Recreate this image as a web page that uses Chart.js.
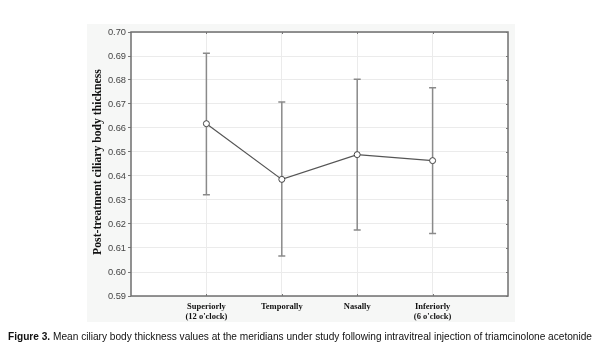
<!DOCTYPE html>
<html>
<head>
<meta charset="utf-8">
<script src="https://cdn.jsdelivr.net/npm/chart.js@4.4.1/dist/chart.umd.min.js"></script>
<style>
  html, body { margin: 0; padding: 0; background: #fff; }
  #wrap { position: relative; width: 600px; height: 358px; overflow: hidden; }
  #c { position: absolute; left: 0; top: 0; }
  #cap { position: absolute; left: 8px; top: 330px; white-space: nowrap;
         font-family: "Liberation Sans", Arial, sans-serif; font-size: 10.5px; color: #111;
         transform-origin: 0 0; }
  #cap b { font-weight: bold; }
</style>
</head>
<body>
<div id="wrap">
  <canvas id="c" width="600" height="358"></canvas>
  <div id="cap"><b>Figure 3.</b> Mean ciliary body thickness values at the meridians under study following intravitreal injection of triamcinolone acetonide</div>
</div>
<script>
// ---- data ----
const categories = [["Superiorly", "(12 o'clock)"], ["Temporally"], ["Nasally"], ["Inferiorly", "(6 o'clock)"]];
const means = [0.6618, 0.6386, 0.6489, 0.6464];
const upper = [0.6911, 0.6708, 0.6803, 0.6768];
const lower = [0.6322, 0.6067, 0.6175, 0.6160];
const yTicks = [0.59, 0.60, 0.61, 0.62, 0.63, 0.64, 0.65, 0.66, 0.67, 0.68, 0.69, 0.70];
const yTitle = "Post-treatment ciliary body thickness";

const points = means.map((m, i) => ({ x: i + 1, y: m }));

const bgPlugin = {
  id: 'bg',
  beforeDraw(chart) {
    const ctx = chart.ctx, a = chart.chartArea;
    ctx.save();
    ctx.fillStyle = '#f6f7f6';
    ctx.fillRect(87, 24, 428, 298);
    ctx.fillStyle = '#ffffff';
    ctx.fillRect(a.left, a.top, a.right - a.left, a.bottom - a.top);
    ctx.restore();
  }
};

const framePlugin = {
  id: 'frame',
  afterDraw(chart) {
    const ctx = chart.ctx, a = chart.chartArea;
    const xs = chart.scales.x, ys = chart.scales.y;
    ctx.save();
    ctx.strokeStyle = '#6f6f6f';
    ctx.lineWidth = 1.5;
    ctx.strokeRect(a.left, a.top, a.right - a.left, a.bottom - a.top);
    ctx.lineWidth = 1;
    ctx.strokeStyle = '#777';
    ctx.beginPath();
    xs.ticks.forEach(t => {
      const px = Math.round(xs.getPixelForValue(t.value)) + 0.5;
      ctx.moveTo(px, a.bottom); ctx.lineTo(px, a.bottom - 2);
      ctx.moveTo(px, a.top); ctx.lineTo(px, a.top + 2);
    });
    ys.ticks.forEach(t => {
      const py = Math.round(ys.getPixelForValue(t.value)) + 0.5;
      ctx.moveTo(a.right, py); ctx.lineTo(a.right - 2, py);
    });
    ctx.stroke();
    ctx.translate(98, 162);
    ctx.rotate(-Math.PI / 2);
    ctx.fillStyle = '#111';
    ctx.font = 'bold 11.7px "Liberation Serif", "Times New Roman", serif';
    ctx.textAlign = 'center';
    ctx.textBaseline = 'middle';
    ctx.fillText(yTitle, 0, 0);
    ctx.restore();
  }
};

const errPlugin = {
  id: 'err',
  beforeDatasetsDraw(chart) {
    const ctx = chart.ctx;
    const xs = chart.scales.x, ys = chart.scales.y;
    ctx.save();
    ctx.strokeStyle = '#8a8a8a';
    ctx.lineWidth = 1.5;
    ctx.beginPath();
    means.forEach((m, i) => {
      const px = xs.getPixelForValue(i + 1);
      const pu = ys.getPixelForValue(upper[i]);
      const pl = ys.getPixelForValue(lower[i]);
      ctx.moveTo(px, pu); ctx.lineTo(px, pl);
      ctx.moveTo(px - 3.5, pu); ctx.lineTo(px + 3.5, pu);
      ctx.moveTo(px - 3.5, pl); ctx.lineTo(px + 3.5, pl);
    });
    ctx.stroke();
    ctx.restore();
  }
};

new Chart(document.getElementById('c'), {
  type: 'line',
  data: {
    datasets: [{
      data: points,
      borderColor: '#555',
      borderWidth: 1.2,
      backgroundColor: '#fff',
      pointBackgroundColor: '#fff',
      pointBorderColor: '#444',
      pointBorderWidth: 1,
      pointRadius: 3,
      tension: 0
    }]
  },
  options: {
    responsive: false,
    animation: false,
    events: [],
    layout: { padding: { top: 32, right: 92, left: 0, bottom: 0 } },
    plugins: { legend: { display: false }, tooltip: { enabled: false } },
    scales: {
      x: {
        type: 'linear', min: 0, max: 5,
        afterBuildTicks(scale) { scale.ticks = categories.map((c, i) => ({ value: i + 1 })); },
        afterFit(scale) { scale.height = 62; },
        border: { display: false },
        grid: { color: '#ebebeb', lineWidth: 1, borderDash: [1, 2], drawTicks: false },
        ticks: {
          padding: 5,
          autoSkip: false,
          maxRotation: 0,
          color: '#111',
          font: { family: '"Liberation Serif", "Times New Roman", serif', size: 8.5, weight: 'bold', lineHeight: 1.25 },
          callback: (v) => categories[v - 1] || ''
        }
      },
      y: {
        min: 0.59, max: 0.70,
        afterBuildTicks(scale) { scale.ticks = yTicks.map(v => ({ value: v })); },
        afterFit(scale) { scale.width = 131; },
        border: { display: false },
        grid: { color: '#ebebeb', lineWidth: 1, borderDash: [1, 2], tickLength: 3, tickColor: '#777', tickBorderDash: [], tickWidth: 1 },
        ticks: {
          padding: 2,
          color: '#444',
          font: { family: '"Liberation Sans", Arial, sans-serif', size: 9.3 },
          callback: (v) => Number(v).toFixed(2)
        }
      }
    }
  },
  plugins: [bgPlugin, errPlugin, framePlugin]
});

const cap = document.getElementById('cap');
const w = cap.getBoundingClientRect().width;
cap.style.transform = 'scaleX(' + (584 / w) + ')';
</script>
</body>
</html>
